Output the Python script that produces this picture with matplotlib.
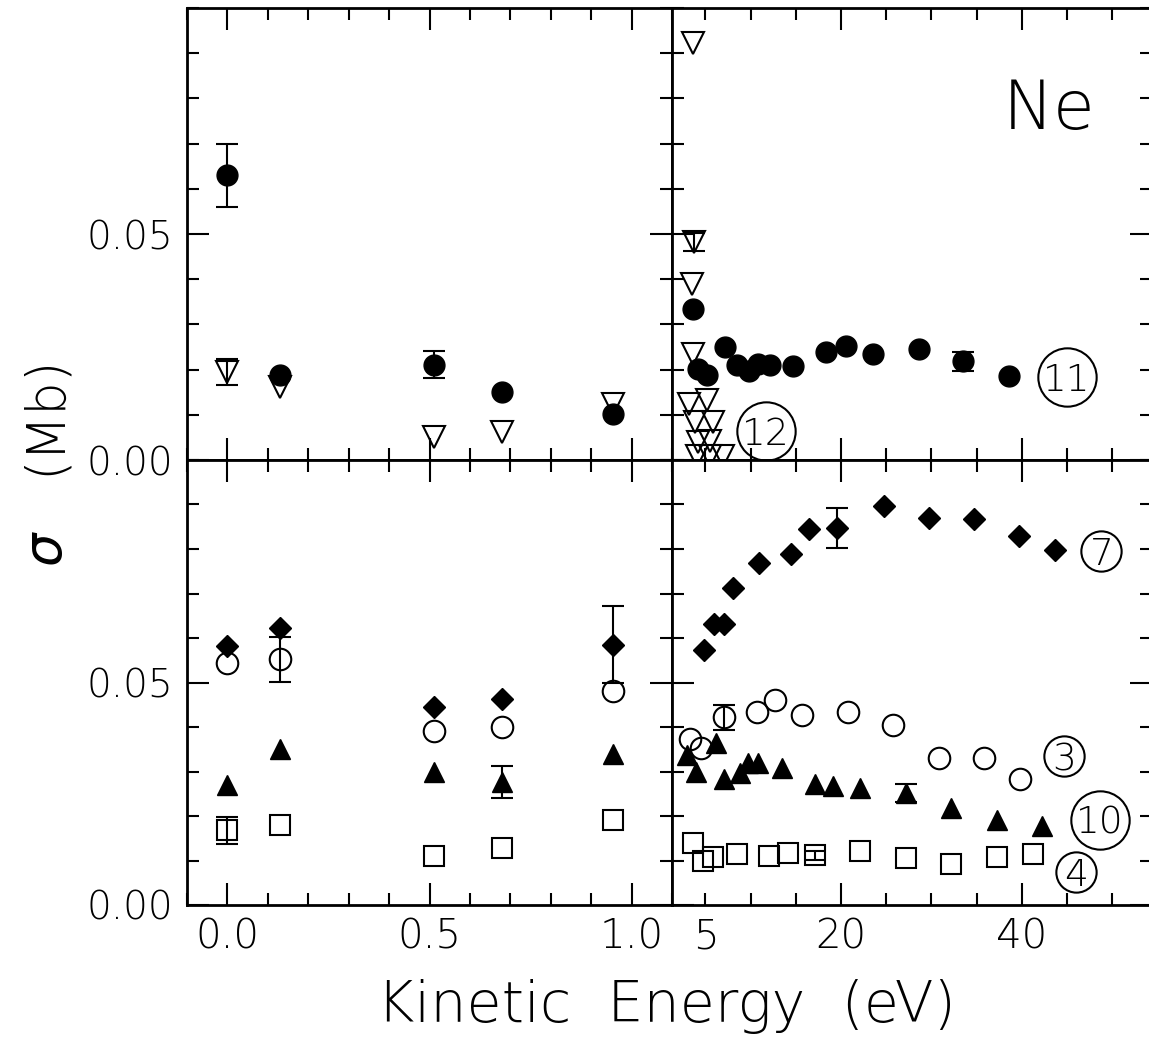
import matplotlib
matplotlib.use("Agg")
import matplotlib.pyplot as plt
from matplotlib.ticker import FixedLocator, MultipleLocator, FuncFormatter

plt.rcParams['font.family'] = ['DejaVu Sans']
plt.rcParams['font.weight'] = 'light'

# ---------------- data ----------------
# Left column: kinetic energy 0 - 1 eV
low_energy = [0.0, 0.13, 0.51, 0.68, 0.955]

# top-left panel
tl_circle_11 = [0.0630, 0.0187, 0.0211, 0.0150, 0.0101]
tl_circle_11_err = {0: 0.0070, 2: 0.0030}
tl_triangle_12 = [0.0194, 0.0161, 0.0051, 0.0061, 0.0123]
tl_triangle_12_err = {0: 0.0029}

# bottom-left panel
bl_diamond_7 = [0.0583, 0.0623, 0.0444, 0.0462, 0.0585]
bl_diamond_7_err = {4: 0.0087}
bl_circle_3 = [0.0543, 0.0552, 0.0392, 0.0399, 0.0482]
bl_circle_3_err = {1: 0.0050}
bl_triangle_10 = [0.0269, 0.0350, 0.0298, 0.0276, 0.0340]
bl_triangle_10_err = {3: 0.0036}
bl_square_4 = [0.0168, 0.0179, 0.0110, 0.0128, 0.0191]
bl_square_4_err = {0: 0.0030}

# top-right panel (eV)
tr_circle_11_x = [3.6, 4.2, 5.2, 7.2, 8.5, 9.8, 10.8, 12.1, 14.7, 18.3, 20.5, 23.5, 28.6, 33.5, 38.6]
tr_circle_11_y = [0.0335, 0.0202, 0.0187, 0.0250, 0.0211, 0.0196, 0.0212, 0.0211, 0.0209, 0.0238, 0.0253,
                  0.0235, 0.0246, 0.0218, 0.0185]
tr_circle_11_err = {13: 0.0020}
tr_triangle_12_x = [3.6, 3.7, 3.5, 3.6, 3.2, 5.2, 3.8, 5.8, 4.2, 5.5, 4.1, 5.5, 6.9]
tr_triangle_12_y = [0.0923, 0.0482, 0.0390, 0.0235, 0.0125, 0.0132, 0.0084, 0.0084, 0.0040, 0.0042,
                    0.0008, 0.0008, 0.0008]
tr_triangle_12_err = {1: 0.0020}

# bottom-right panel (eV)
br_diamond_7_x = [4.8, 6.0, 7.1, 8.1, 10.9, 14.5, 16.5, 19.6, 24.7, 29.7, 34.7, 39.7, 43.7]
br_diamond_7_y = [0.0574, 0.0632, 0.0632, 0.0713, 0.0769, 0.0789, 0.0845, 0.0848, 0.0897, 0.0870,
                  0.0868, 0.0830, 0.0798]
br_diamond_7_err = {7: 0.0045}
br_circle_3_x = [3.3, 4.5, 7.1, 10.7, 12.7, 15.7, 20.8, 25.8, 30.8, 35.8, 39.8]
br_circle_3_y = [0.0374, 0.0352, 0.0422, 0.0433, 0.0460, 0.0426, 0.0433, 0.0404, 0.0330, 0.0331, 0.0283]
br_circle_3_err = {2: 0.0028}
br_triangle_10_x = [3.0, 4.0, 6.2, 7.1, 8.8, 9.7, 10.8, 13.5, 17.1, 19.1, 22.1, 27.2, 32.2, 37.2, 42.2]
br_triangle_10_y = [0.0338, 0.0298, 0.0365, 0.0284, 0.0297, 0.0318, 0.0319, 0.0307, 0.0272, 0.0267,
                    0.0262, 0.0251, 0.0217, 0.0191, 0.0177]
br_triangle_10_err = {11: 0.0020}
br_square_4_x = [3.6, 4.7, 5.8, 8.5, 12.0, 14.1, 17.1, 22.1, 27.2, 32.2, 37.2, 41.2]
br_square_4_y = [0.0139, 0.0100, 0.0108, 0.0114, 0.0109, 0.0117, 0.0112, 0.0121, 0.0105, 0.0092,
                 0.0108, 0.0114]
br_square_4_err = {6: 0.0010}

# circled channel labels: (panel, text, x, y, circle diameter in pt)
channel_labels = [
    ('tr', '11', 45.0, 0.0183, 42),
    ('tr', '12', 11.7, 0.0064, 42),
    ('br', '7', 48.8, 0.0796, 29),
    ('br', '3', 44.7, 0.0334, 29),
    ('br', '10', 48.6, 0.0191, 42),
    ('br', '4', 46.0, 0.0074, 29),
]

left_xticks = [0.0, 0.5, 1.0]
right_xticks = [20, 40]
right_extra_label = 5
yticks = [0.0, 0.05]

# ---------------- styles ----------------
filled_circle = dict(marker='o', ms=15, mfc='k', mec='k', mew=1.0, zorder=3)
open_circle = dict(marker='o', ms=15.5, mfc='none', mec='k', mew=1.5, zorder=3)
open_vtri = dict(marker='v', ms=15.5, mfc='none', mec='k', mew=1.5, zorder=3)
filled_tri = dict(marker='^', ms=15, mfc='k', mec='k', mew=1.0, zorder=4)
filled_diamond = dict(marker='D', ms=11, mfc='k', mec='k', mew=1.0, zorder=4)
open_square = dict(marker='s', ms=15, mfc='none', mec='k', mew=1.5, zorder=3)

W, H = 1149, 1042
fig = plt.figure(figsize=(W / 100, H / 100), dpi=100)
L0, LW = 187 / W, 485 / W
R0, RW = 672 / W, 480 / W
T0, TH = (H - 460) / H, 452 / H
B0, BH = (H - 905) / H, 445 / H
ax_tl = fig.add_axes([L0, T0, LW, TH])
ax_bl = fig.add_axes([L0, B0, LW, BH])
ax_tr = fig.add_axes([R0, T0, RW, TH])
ax_br = fig.add_axes([R0, B0, RW, BH])
axes = {'tl': ax_tl, 'bl': ax_bl, 'tr': ax_tr, 'br': ax_br}


def series(ax, x, y, style, err=None):
    ax.plot(x, y, linestyle='none', **style)
    if err:
        idx = sorted(err)
        ax.errorbar([x[i] for i in idx], [y[i] for i in idx], yerr=[err[i] for i in idx],
                    fmt='none', ecolor='k', elinewidth=1.5, capsize=8, capthick=1.5, zorder=2.5)


def setup(ax, left_col, bottom_row):
    if left_col:
        ax.set_xlim(-0.1, 1.1)
        ax.xaxis.set_major_locator(FixedLocator(left_xticks))
        ax.xaxis.set_minor_locator(MultipleLocator(0.1))
        ax.xaxis.set_major_formatter(FuncFormatter(lambda v, p: f'{v:.1f}'))
    else:
        ax.set_xlim(1.3, 54.4)
        ax.xaxis.set_major_locator(FixedLocator(right_xticks))
        ax.xaxis.set_minor_locator(MultipleLocator(5))
        ax.xaxis.set_major_formatter(FuncFormatter(lambda v, p: f'{v:g}'))
        ax.xaxis.set_minor_formatter(FuncFormatter(
            lambda v, p: f'{right_extra_label}' if abs(v - right_extra_label) < 1e-6 else ''))
    ax.set_ylim(0, 0.1)
    ax.yaxis.set_major_locator(FixedLocator(yticks))
    ax.yaxis.set_minor_locator(MultipleLocator(0.01))
    ax.yaxis.set_major_formatter(FuncFormatter(lambda v, p: f'{v:.2f}'))
    for s in ax.spines.values():
        s.set_linewidth(2.0)
    ax.tick_params(which='both', direction='in', top=True, right=True, left=True, bottom=True,
                   width=1.5, color='k')
    ax.tick_params(which='major', length=16)
    ax.tick_params(which='minor', length=8.5)
    ax.tick_params(axis='y', which='both', labelleft=left_col, labelright=False, pad=10, labelsize=28)
    ax.tick_params(axis='x', which='both', labelbottom=bottom_row, labeltop=False, pad=9, labelsize=29)


for key, ax in axes.items():
    setup(ax, key[1] == 'l', key[0] == 'b')

series(ax_tl, low_energy, tl_triangle_12, open_vtri, tl_triangle_12_err)
series(ax_tl, low_energy, tl_circle_11, filled_circle, tl_circle_11_err)

series(ax_bl, low_energy, bl_circle_3, open_circle, bl_circle_3_err)
series(ax_bl, low_energy, bl_square_4, open_square, bl_square_4_err)
series(ax_bl, low_energy, bl_triangle_10, filled_tri, bl_triangle_10_err)
series(ax_bl, low_energy, bl_diamond_7, filled_diamond, bl_diamond_7_err)

series(ax_tr, tr_triangle_12_x, tr_triangle_12_y, open_vtri, tr_triangle_12_err)
series(ax_tr, tr_circle_11_x, tr_circle_11_y, filled_circle, tr_circle_11_err)

series(ax_br, br_circle_3_x, br_circle_3_y, open_circle, br_circle_3_err)
series(ax_br, br_square_4_x, br_square_4_y, open_square, br_square_4_err)
series(ax_br, br_triangle_10_x, br_triangle_10_y, filled_tri, br_triangle_10_err)
series(ax_br, br_diamond_7_x, br_diamond_7_y, filled_diamond, br_diamond_7_err)

for key, txt, x, y, d in channel_labels:
    ax = axes[key]
    ax.plot([x], [y], linestyle='none', marker='o', ms=d, mfc='none', mec='k', mew=1.5, zorder=5)
    ax.annotate(txt, (x, y), xytext=(0, -10), textcoords='offset points', ha='center',
                va='baseline', fontsize=27, zorder=6)

ax_tr.text(37.9, 0.0733, 'Ne', fontsize=49, ha='left', va='baseline')

fig.text(666 / W, 1 - 1007 / H, 'Kinetic  Energy  (eV)', fontsize=41, ha='center', va='center')
# y-axis label: italic sigma followed by the unit
fig.text(45 / W, 1 - 548 / H, 'σ', fontsize=38, fontstyle='italic', rotation=90,
         ha='center', va='center')
fig.text(45 / W, 1 - 415 / H, '(Mb)', fontsize=38, rotation=90, ha='center', va='center')

fig.savefig('out.png', dpi=100)
